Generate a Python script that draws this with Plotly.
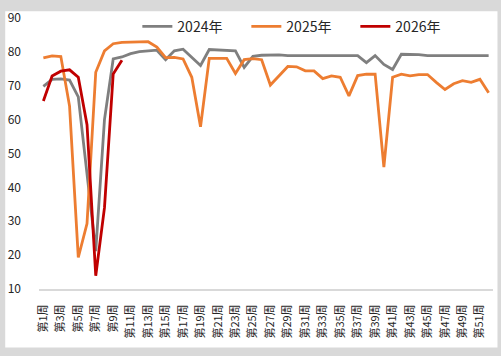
import plotly.graph_objects as go

weeks = ["第%d周" % i for i in range(1, 53)]

y2024 = [69.8, 71.9, 72.0, 71.7, 66.7, 44.0, 21.2, 60.0, 77.9, 78.5,
         79.5, 80.1, 80.4, 80.5, 77.7, 80.3, 80.8, 78.4, 76.0, 80.7,
         80.6, 80.3, 80.3, 75.4, 78.7, 79.0, 79.1, 79.1, 78.9, 78.9,
         78.9, 78.9, 78.9, 78.9, 78.9, 78.9, 78.9, 76.8, 78.9, 76.3,
         74.8, 79.3, 79.3, 79.2, 78.9, 78.9, 78.9, 78.9, 78.9, 78.9,
         78.9, 78.9]

y2025 = [78.2, 78.8, 78.6, 64.0, 19.3, 29.3, 74.0, 80.3, 82.4, 82.8,
         82.9, 83.0, 83.0, 81.4, 78.3, 78.4, 77.9, 72.5, 57.9, 78.1,
         78.1, 78.1, 73.6, 77.7, 78.0, 77.7, 70.2, 72.8, 75.7, 75.6,
         74.4, 74.4, 72.1, 72.9, 72.5, 67.0, 73.0, 73.4, 73.4, 46.0,
         72.5, 73.4, 72.9, 73.3, 73.3, 71.0, 68.9, 70.6, 71.5, 71.0,
         71.9, 67.9]

y2026 = [65.5, 72.9, 74.3, 74.7, 72.5, 58.5, 13.9, 34.0, 73.5, 77.5]

series_names = ["2024年", "2025年", "2026年"]
series_colors = ["#7f7f7f", "#ed7d31", "#c00000"]
y_ticks = [10, 20, 30, 40, 50, 60, 70, 80, 90]

W, H = 501, 356
L, R, T, B = 36, 8, 9, 67
PW, PH = W - L - R, H - T - B

def px_x(p):
    return (p - L) / PW

def px_y(p):
    return (H - B - p) / PH

fig = go.Figure()
for name, ys, col in zip(series_names, [y2024, y2025, y2026], series_colors):
    fig.add_trace(go.Scatter(
        x=weeks[:len(ys)], y=ys, name=name, mode="lines",
        line=dict(color=col, width=2.8),
    ))

fig.update_layout(
    width=W, height=H,
    margin=dict(l=L, r=R, t=T, b=B, pad=0),
    paper_bgcolor="#d9d9d9",
    plot_bgcolor="rgba(0,0,0,0)",
    font=dict(family="Noto Sans CJK SC, Noto Sans, sans-serif", color="#262626"),
    showlegend=True,
    legend=dict(
        orientation="h", x=px_x(135), xanchor="left", y=px_y(18), yanchor="middle",
        font=dict(size=14, color="#262626"), bgcolor="rgba(0,0,0,0)",
        entrywidth=64, entrywidthmode="pixels", itemwidth=30,
        tracegroupgap=0,
    ),
    shapes=[dict(
        type="rect", xref="paper", yref="paper", layer="below",
        x0=px_x(2), x1=px_x(497.5), y0=px_y(349.5), y1=px_y(2),
        fillcolor="white", line=dict(width=0),
    )],
)

fig.update_xaxes(
    type="category", categoryorder="array", categoryarray=weeks,
    range=[-0.5, 51.5],
    tickmode="array", tickvals=weeks[::2], ticktext=weeks[::2],
    tickangle=-90, tickfont=dict(size=11, color="#262626"),
    showline=True, linecolor="#d9d9d9", linewidth=2,
    showgrid=False, zeroline=False, ticks="",
    ticklabelstandoff=9,
)
fig.update_yaxes(
    range=[10, 90], tickmode="array", tickvals=y_ticks,
    tickfont=dict(size=12, color="#262626"),
    showline=False, showgrid=False, zeroline=False, ticks="",
    ticklabelstandoff=17,
)

fig.write_html("out.html", config={"displayModeBar": False},
               post_script="document.body.style.margin='0';document.body.style.overflow='hidden';")
